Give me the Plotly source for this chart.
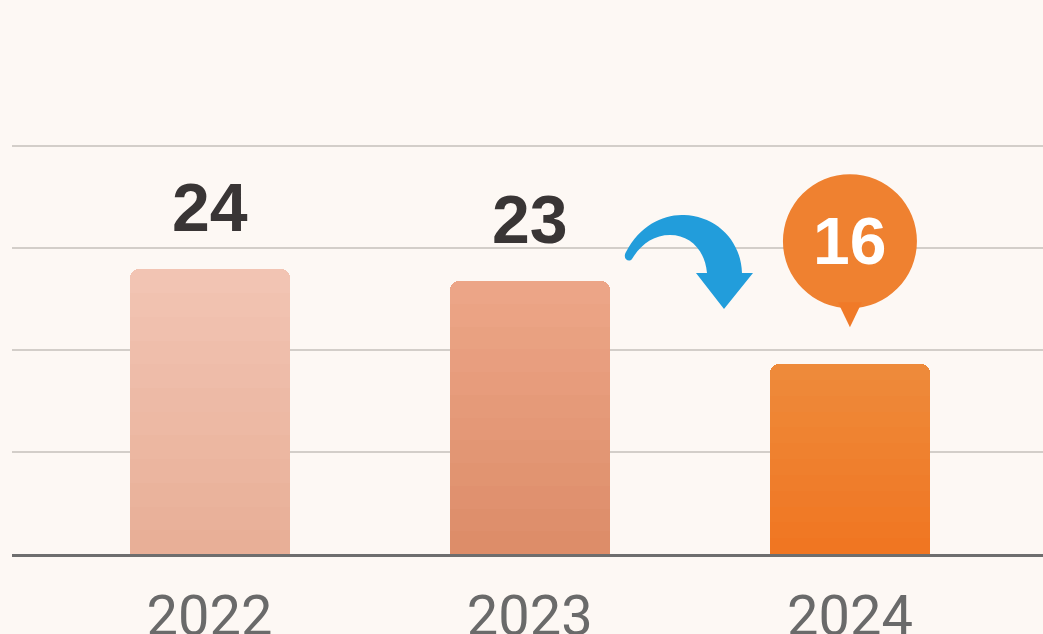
import plotly.graph_objects as go

# ---- data ----
years = ["2022", "2023", "2024"]
values = [24, 23, 16]
value_labels = ["24", "23", "16"]
highlight_year = "2024"

# ---- styles ----
BG = "#FDF8F4"
top_cols = ["#F2C5B4", "#EDA688", "#EE8B3B"]
bot_cols = ["#E8AE96", "#DC8C68", "#F07521"]
N = 12

def hex2rgb(h):
    h = h.lstrip("#")
    return tuple(int(h[i:i + 2], 16) for i in (0, 2, 4))

def lerp(c1, c2, t):
    a, b = hex2rgb(c1), hex2rgb(c2)
    return "rgb(%d,%d,%d)" % tuple(round(a[k] + (b[k] - a[k]) * t) for k in range(3))

fig = go.Figure()
for j in range(N):
    t = (j + 0.5) / N
    fig.add_trace(go.Bar(
        x=years,
        y=[v / N for v in values],
        marker=dict(color=[lerp(bot_cols[i], top_cols[i], t) for i in range(len(years))],
                    line=dict(width=0)),
        width=0.5,
        hoverinfo="skip",
        showlegend=False,
    ))

L, T, B = 12, 0, 80
W, H = 1043, 634
PW, PH = W - L, H - T - B

def P(X, Y):
    return "%.5f,%.5f" % ((X - L) / PW, (H - B - Y) / PH)

annotations = []
for i, (yr, v, lab) in enumerate(zip(years, values, value_labels)):
    if yr == highlight_year:
        continue
    annotations.append(dict(
        x=i, y=v, xref="x", yref="y", text="<b>" + lab + "</b>", showarrow=False,
        yshift=62, yanchor="middle",
        font=dict(family="Liberation Sans", size=68, color="#393535"),
    ))

hi = years.index(highlight_year)
hv = values[hi]
annotations.append(dict(
    x=hi, y=hv, xref="x", yref="y", text="<b>" + value_labels[hi] + "</b>", showarrow=False,
    yshift=123, yanchor="middle",
    font=dict(family="Liberation Sans", size=66, color="#FFFFFF"),
))

shapes = [
    # bubble circle
    dict(type="circle", xref="x", yref="y", xsizemode="pixel", ysizemode="pixel",
         xanchor=hi, yanchor=hv, x0=-67, x1=67, y0=56, y1=190,
         fillcolor="#EF8130", line=dict(width=0)),
    # bubble pointer
    dict(type="path", xref="x", yref="y", xsizemode="pixel", ysizemode="pixel",
         xanchor=hi, yanchor=hv, path="M -12,62 L 0,37 L 12,62 Z",
         fillcolor="#F07A28", line=dict(width=0)),
    # blue curved arrow
    dict(type="path", xref="paper", yref="paper",
         path=("M " + P(626, 252) +
               " C " + P(640, 225) + " " + P(664, 214) + " " + P(684, 215) +
               " C " + P(716, 216) + " " + P(741, 240) + " " + P(742, 273) +
               " L " + P(753, 273) + " L " + P(724, 309) + " L " + P(696, 273) +
               " L " + P(707, 273) +
               " C " + P(705, 250) + " " + P(690, 235) + " " + P(670, 235) +
               " C " + P(654, 235) + " " + P(641, 244) + " " + P(632, 259) +
               " C " + P(629, 263) + " " + P(622, 259) + " " + P(626, 252) + " Z"),
         fillcolor="#229DDB", line=dict(width=0)),
]

fig.update_layout(
    width=W, height=H,
    margin=dict(l=L, r=0, t=T, b=B, autoexpand=False),
    paper_bgcolor=BG, plot_bgcolor=BG,
    barmode="stack", bargap=0, barcornerradius=9,
    annotations=annotations, shapes=shapes,
    xaxis=dict(
        type="category",
        range=[-0.617, 2.603], showgrid=False, zeroline=False, automargin=False,
        showline=True, linecolor="#6E6E6E", linewidth=3,
        ticks="", ticklabelstandoff=11,
        tickfont=dict(family="Roboto", size=56, color="#6A6A6A"),
        fixedrange=True,
    ),
    yaxis=dict(
        range=[0, 554 / 11.86], tickvals=[8.6, 17.2, 25.8, 34.4], automargin=False,
        showticklabels=False, showgrid=True, gridcolor="#D3CEC9", gridwidth=2,
        zeroline=False, showline=False, fixedrange=True,
    ),
)

fig.write_html("out.html", config={"displayModeBar": False},
               post_script="document.body.style.margin='0';document.body.style.background='" + BG + "';")
